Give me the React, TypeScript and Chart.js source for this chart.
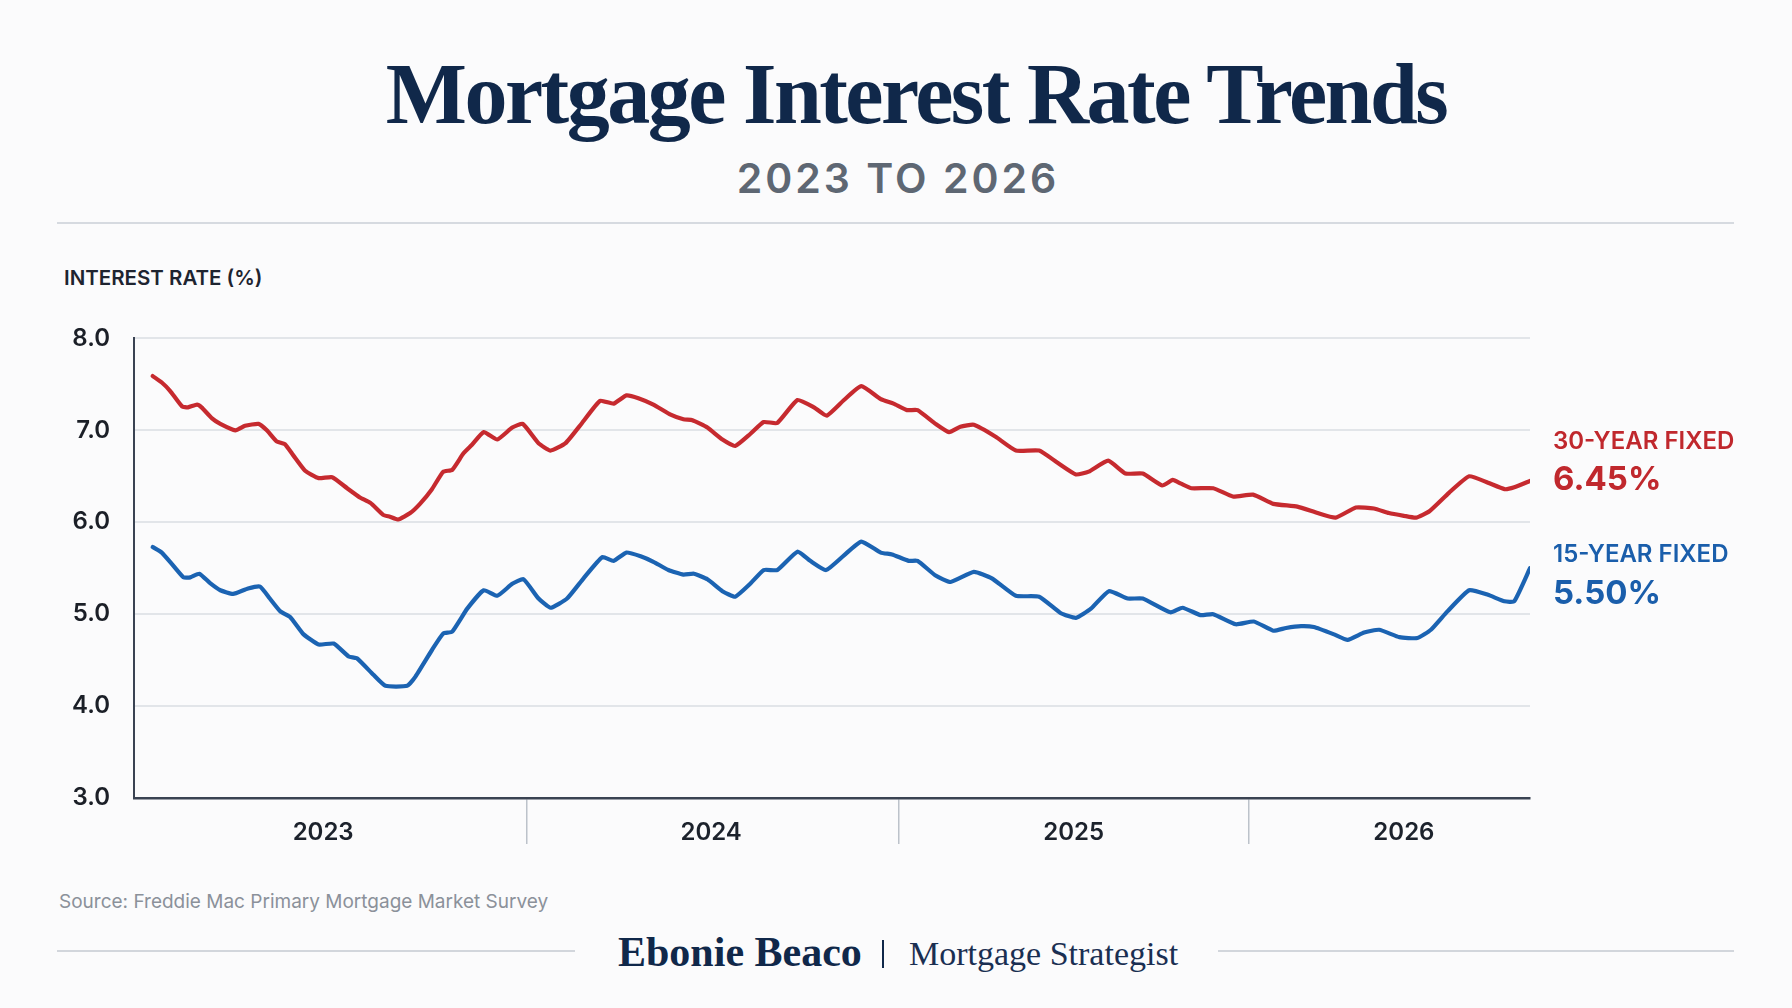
import { useEffect, useRef } from 'react';
import { Chart, registerables } from 'chart.js';

Chart.register(...registerables);

// Weekly index (weeks since the start of the axis) and average rates, 30-year fixed
const weeks30 = [2.5, 3.7, 4.8, 6.4, 7.2, 8.4, 9.0, 10.4, 11.5, 13.5, 14.8, 16.6, 17.7, 19.0, 20.1, 21.2, 22.8, 24.6, 26.4, 28.4, 30.1, 31.5, 33.2, 34.1, 35.2, 36.8, 38.1, 39.7, 41.2, 42.4, 43.9, 45.0, 46.6, 48.4, 50.4, 51.8, 53.9, 55.5, 57.5, 59.7, 62.1, 63.9, 65.6, 67.2, 69.2, 71.5, 73.2, 74.4, 76.4, 78.4, 80.1, 82.1, 83.9, 85.7, 88.4, 90.6, 92.3, 94.6, 96.9, 99.5, 101.2, 103.0, 104.4, 106.8, 108.6, 110.1, 111.9, 114.8, 117.5, 120.6, 123.0, 125.5, 127.2, 129.8, 132.1, 134.4, 137.0, 138.4, 139.5, 140.9, 143.8, 146.4, 149.1, 151.8, 155.0, 157.7, 160.1, 162.8, 165.2, 167.2, 169.2, 170.8, 172.6, 175.2, 177.9, 180.4, 182.6, 183.9, 186.0];
const rate30 = [7.59, 7.52, 7.43, 7.26, 7.25, 7.28, 7.25, 7.13, 7.07, 7.00, 7.05, 7.07, 7.00, 6.88, 6.85, 6.73, 6.56, 6.48, 6.49, 6.37, 6.27, 6.21, 6.08, 6.06, 6.03, 6.10, 6.20, 6.36, 6.55, 6.57, 6.75, 6.84, 6.98, 6.90, 7.03, 7.07, 6.86, 6.78, 6.86, 7.08, 7.32, 7.29, 7.38, 7.35, 7.28, 7.17, 7.12, 7.11, 7.03, 6.90, 6.83, 6.96, 7.09, 7.08, 7.33, 7.25, 7.16, 7.33, 7.48, 7.34, 7.29, 7.22, 7.22, 7.07, 6.98, 7.04, 7.06, 6.93, 6.78, 6.78, 6.65, 6.52, 6.55, 6.67, 6.53, 6.53, 6.40, 6.46, 6.42, 6.37, 6.37, 6.28, 6.30, 6.20, 6.17, 6.10, 6.05, 6.16, 6.15, 6.10, 6.07, 6.05, 6.12, 6.32, 6.50, 6.43, 6.36, 6.38, 6.45];

// 15-year fixed
const weeks15 = [2.5, 3.7, 5.0, 6.6, 7.5, 8.7, 10.1, 11.5, 13.2, 15.2, 16.8, 18.1, 19.5, 20.8, 22.6, 24.6, 26.6, 28.6, 29.7, 31.9, 33.5, 36.4, 37.5, 39.7, 41.2, 42.4, 44.4, 46.6, 48.4, 50.4, 51.9, 53.9, 55.5, 57.7, 59.9, 62.4, 63.9, 65.6, 67.5, 69.2, 71.2, 73.2, 74.6, 76.4, 78.4, 80.1, 82.1, 83.9, 85.7, 88.4, 90.1, 92.2, 94.6, 96.9, 99.5, 101.0, 103.2, 104.4, 106.8, 108.8, 111.9, 114.3, 117.5, 120.6, 123.5, 125.5, 127.5, 129.9, 132.4, 134.4, 138.1, 139.7, 142.1, 143.8, 146.8, 149.2, 151.8, 153.5, 155.5, 157.2, 159.9, 161.7, 163.9, 165.9, 168.6, 171.0, 172.8, 175.0, 177.9, 180.4, 182.6, 183.9, 186.0];
const rate15 = [5.73, 5.67, 5.55, 5.40, 5.40, 5.44, 5.34, 5.26, 5.22, 5.28, 5.30, 5.17, 5.03, 4.97, 4.78, 4.67, 4.68, 4.54, 4.52, 4.34, 4.22, 4.22, 4.32, 4.61, 4.79, 4.81, 5.06, 5.26, 5.20, 5.33, 5.38, 5.17, 5.07, 5.17, 5.39, 5.62, 5.58, 5.67, 5.63, 5.57, 5.48, 5.43, 5.44, 5.38, 5.25, 5.19, 5.33, 5.48, 5.48, 5.68, 5.58, 5.48, 5.64, 5.79, 5.67, 5.65, 5.58, 5.58, 5.42, 5.35, 5.46, 5.39, 5.20, 5.19, 5.01, 4.96, 5.06, 5.25, 5.17, 5.17, 5.02, 5.07, 4.99, 5.00, 4.89, 4.92, 4.82, 4.85, 4.87, 4.86, 4.78, 4.72, 4.80, 4.83, 4.75, 4.74, 4.83, 5.03, 5.26, 5.21, 5.14, 5.14, 5.50];

// Year bands on the week axis
const yearLabels = ['2023', '2024', '2025', '2026'];
const yearLabelWeeks = [25.2, 76.9, 125.2, 169.2];
const yearBreakWeeks = [52.3, 101.9, 148.5];
const WEEK_MIN = 0;
const WEEK_MAX = 186;

const RATE_MIN = 3;
const RATE_MAX = 8;
const RATE_STEP = 1;

const NAVY = '#10284a';
const RED = '#c62a2f';
const BLUE = '#1b63b2';
const RED_TEXT = '#c0282d';
const BLUE_TEXT = '#1a5eab';
const AXIS = '#3a4352';

const yearLabelPlugin = {
  id: 'yearLabels',
  afterDraw(chart: any) {
    const { ctx, chartArea, scales } = chart;
    const xs = scales.x;
    ctx.save();
    ctx.font = '600 24px Inter';
    ctx.fillStyle = '#1c222c';
    ctx.textAlign = 'center';
    ctx.textBaseline = 'middle';
    yearLabels.forEach((label, i) => {
      ctx.fillText(label, xs.getPixelForValue(yearLabelWeeks[i]), chartArea.bottom + 35);
    });
    ctx.restore();
  },
};

function RateChart() {
  const canvasRef = useRef<HTMLCanvasElement | null>(null);

  useEffect(() => {
    let chart: Chart | null = null;
    let cancelled = false;

    const build = () => {
      if (cancelled || !canvasRef.current) return;
      chart = new Chart(canvasRef.current, {
        type: 'line',
        data: {
          datasets: [
            {
              label: '30-Year Fixed',
              data: weeks30.map((w, i) => ({ x: w, y: rate30[i] })),
              borderColor: RED,
              borderWidth: 4.2,
              pointRadius: 0,
              tension: 0.15,
              borderJoinStyle: 'round',
              borderCapStyle: 'round',
              fill: false,
            },
            {
              label: '15-Year Fixed',
              data: weeks15.map((w, i) => ({ x: w, y: rate15[i] })),
              borderColor: BLUE,
              borderWidth: 4.2,
              pointRadius: 0,
              tension: 0.15,
              borderJoinStyle: 'round',
              borderCapStyle: 'round',
              fill: false,
            },
          ],
        },
        options: {
          responsive: false,
          animation: false,
          devicePixelRatio: 1,
          layout: { padding: { top: 34, right: 262, bottom: 0, left: 0 } },
          plugins: { legend: { display: false }, tooltip: { enabled: false } },
          scales: {
            x: {
              type: 'linear',
              min: WEEK_MIN,
              max: WEEK_MAX,
              afterBuildTicks: (axis: any) => {
                axis.ticks = yearBreakWeeks.map((v) => ({ value: v }));
              },
              afterFit: (axis: any) => {
                axis.height = 62;
              },
              ticks: { display: false },
              grid: {
                drawOnChartArea: false,
                drawTicks: true,
                tickLength: 46,
                color: '#bcc2ca',
                lineWidth: 1.5,
              },
              border: { display: true, color: AXIS, width: 2.5 },
            },
            y: {
              min: RATE_MIN,
              max: RATE_MAX,
              afterFit: (axis: any) => {
                axis.width = 134;
              },
              ticks: {
                stepSize: RATE_STEP,
                padding: 24,
                color: '#1b1f27',
                font: { family: 'Inter', size: 24, weight: '600' },
                callback: (v: any) => Number(v).toFixed(1),
              },
              grid: {
                drawTicks: false,
                lineWidth: 2,
                color: (c: any) => (c.tick && c.tick.value === RATE_MIN ? 'rgba(0,0,0,0)' : '#e2e5e9'),
              },
              border: { display: true, color: AXIS, width: 2 },
            },
          },
        },
        plugins: [yearLabelPlugin],
      } as any);
    };

    const fonts = (document as any).fonts;
    if (fonts && fonts.load) {
      Promise.all([fonts.load('600 24px Inter'), fonts.load('700 24px Inter')])
        .then(build)
        .catch(build);
    } else {
      build();
    }

    return () => {
      cancelled = true;
      if (chart) chart.destroy();
    };
  }, []);

  return (
    <canvas
      ref={canvasRef}
      width={1792}
      height={560}
      style={{ position: 'absolute', left: 0, top: 300, width: 1792, height: 560 }}
    />
  );
}

export default function App() {
  const last30 = rate30[rate30.length - 1];
  const last15 = rate15[rate15.length - 1];
  const serif = '"Liberation Serif", "Times New Roman", serif';

  return (
    <div
      style={{
        position: 'absolute',
        left: 0,
        top: 0,
        width: 1792,
        height: 1008,
        background: '#fbfbfc',
        overflow: 'hidden',
        fontFamily: 'Inter, "Noto Sans", sans-serif',
      }}
    >
      <div
        style={{
          position: 'absolute',
          left: 20,
          top: 51,
          width: 1792,
          textAlign: 'center',
          fontFamily: serif,
          fontWeight: 700,
          fontSize: 86,
          lineHeight: '86px',
          letterSpacing: -2.5,
          color: NAVY,
          whiteSpace: 'nowrap',
        }}
      >
        Mortgage Interest Rate Trends
      </div>
      <div
        style={{
          position: 'absolute',
          left: 2,
          top: 158,
          width: 1792,
          textAlign: 'center',
          fontWeight: 600,
          fontSize: 41,
          lineHeight: '41px',
          letterSpacing: 3,
          color: '#5e6773',
        }}
      >
        2023 TO 2026
      </div>
      <div style={{ position: 'absolute', left: 57, top: 222, width: 1677, height: 2, background: '#d6dae0' }} />

      <div
        style={{
          position: 'absolute',
          left: 64,
          top: 268,
          fontWeight: 600,
          fontSize: 20.5,
          lineHeight: '20.5px',
          color: '#1e2430',
          whiteSpace: 'nowrap',
        }}
      >
        INTEREST RATE (%)
      </div>

      <RateChart />

      <div style={{ position: 'absolute', left: 1553, top: 429, fontWeight: 600, fontSize: 24, lineHeight: '24px', color: RED_TEXT, whiteSpace: 'nowrap' }}>
        30-YEAR FIXED
      </div>
      <div style={{ position: 'absolute', left: 1553, top: 462, fontWeight: 700, fontSize: 33, lineHeight: '33px', color: RED_TEXT, whiteSpace: 'nowrap' }}>
        {`${last30.toFixed(2)}%`}
      </div>
      <div style={{ position: 'absolute', left: 1553, top: 542, fontWeight: 600, fontSize: 24, lineHeight: '24px', color: BLUE_TEXT, whiteSpace: 'nowrap' }}>
        15-YEAR FIXED
      </div>
      <div style={{ position: 'absolute', left: 1553, top: 576, fontWeight: 700, fontSize: 33, lineHeight: '33px', color: BLUE_TEXT, whiteSpace: 'nowrap' }}>
        {`${last15.toFixed(2)}%`}
      </div>

      <div style={{ position: 'absolute', left: 59, top: 892, fontSize: 19, lineHeight: '19px', color: '#8b919a', whiteSpace: 'nowrap' }}>
        Source: Freddie Mac Primary Mortgage Market Survey
      </div>

      <div style={{ position: 'absolute', left: 57, top: 950, width: 518, height: 2, background: '#d2d6dc' }} />
      <div style={{ position: 'absolute', left: 1218, top: 950, width: 516, height: 2, background: '#d2d6dc' }} />
      <div
        style={{
          position: 'absolute',
          left: 618,
          top: 931,
          fontFamily: serif,
          fontWeight: 700,
          fontSize: 42,
          lineHeight: '42px',
          color: NAVY,
          whiteSpace: 'nowrap',
        }}
      >
        Ebonie Beaco
      </div>
      <div style={{ position: 'absolute', left: 882, top: 940, width: 2, height: 28, background: NAVY }} />
      <div
        style={{
          position: 'absolute',
          left: 909,
          top: 937,
          fontFamily: serif,
          fontWeight: 400,
          fontSize: 34,
          lineHeight: '34px',
          color: '#1a2f52',
          whiteSpace: 'nowrap',
        }}
      >
        Mortgage Strategist
      </div>
    </div>
  );
}
